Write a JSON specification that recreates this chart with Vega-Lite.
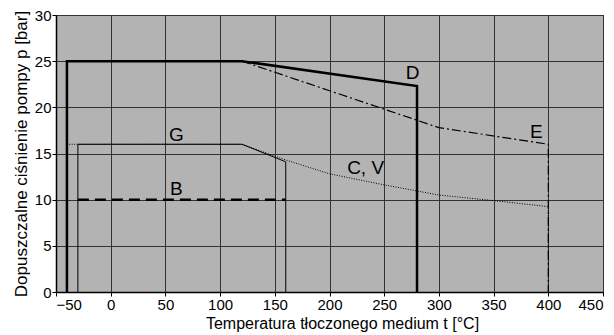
{
  "$schema": "https://vega.github.io/schema/vega-lite/v6.json",
  "autosize": "none",
  "width": 547,
  "height": 277,
  "padding": {"left": 56, "top": 15, "right": 11, "bottom": 43},
  "background": "white",
  "config": {
    "view": {"stroke": "black", "strokeWidth": 1, "fill": "#b3b3b3"},
    "font": "Liberation Sans",
    "axis": {
      "gridColor": "#333333", "gridOpacity": 1, "gridWidth": 1,
      "domainColor": "black", "domainWidth": 1.5,
      "tickColor": "black", "tickSize": 4,
      "labelFont": "Liberation Sans", "labelFontSize": 15, "labelColor": "black",
      "titleFont": "Liberation Sans", "titleFontWeight": "normal", "titleColor": "black"
    }
  },
  "datasets": {
    "lines": [
      {"s": "CV", "o": 0, "t": -40, "p": 0},
      {"s": "CV", "o": 1, "t": -40, "p": 16},
      {"s": "CV", "o": 2, "t": 120, "p": 16},
      {"s": "CV", "o": 3, "t": 160, "p": 14.3},
      {"s": "CV", "o": 4, "t": 200, "p": 12.8},
      {"s": "CV", "o": 5, "t": 250, "p": 11.6},
      {"s": "CV", "o": 6, "t": 300, "p": 10.5},
      {"s": "CV", "o": 7, "t": 350, "p": 9.9},
      {"s": "CV", "o": 8, "t": 400, "p": 9.25},
      {"s": "CV", "o": 9, "t": 400, "p": 0},
      {"s": "G", "o": 0, "t": -30, "p": 0},
      {"s": "G", "o": 1, "t": -30, "p": 16},
      {"s": "G", "o": 2, "t": 120, "p": 16},
      {"s": "G", "o": 3, "t": 160, "p": 14.1},
      {"s": "G", "o": 4, "t": 160, "p": 0},
      {"s": "E", "o": 0, "t": 120, "p": 25},
      {"s": "E", "o": 1, "t": 300, "p": 17.8},
      {"s": "E", "o": 2, "t": 400, "p": 16},
      {"s": "E", "o": 3, "t": 400, "p": 0},
      {"s": "B", "o": 0, "t": -30, "p": 10},
      {"s": "B", "o": 1, "t": 160, "p": 10},
      {"s": "D", "o": 0, "t": -40, "p": 0},
      {"s": "D", "o": 1, "t": -40, "p": 25},
      {"s": "D", "o": 2, "t": 120, "p": 25},
      {"s": "D", "o": 3, "t": 280, "p": 22.3},
      {"s": "D", "o": 4, "t": 280, "p": 0}
    ],
    "labels": [
      {"label": "D", "t": 276, "p": 23.7},
      {"label": "E", "t": 389, "p": 17.3},
      {"label": "G", "t": 60, "p": 17},
      {"label": "B", "t": 60, "p": 11.2},
      {"label": "C, V", "t": 233, "p": 13.4}
    ]
  },
  "encoding": {
    "x": {
      "field": "t", "type": "quantitative",
      "scale": {"domain": [-50, 450], "nice": false, "zero": false},
      "axis": {"values": [-50, 0, 50, 100, 150, 200, 250, 300, 350, 400, 450], "title": "Temperatura tłoczonego medium t [°C]", "titleFontSize": 16, "titlePadding": 3, "labelPadding": 1, "titleX": 286}
    },
    "y": {
      "field": "p", "type": "quantitative",
      "scale": {"domain": [0, 30], "nice": false},
      "axis": {"values": [0, 5, 10, 15, 20, 25, 30], "title": "Dopuszczalne ciśnienie pompy p [bar]", "titleFontSize": 17, "titlePadding": 4, "labelPadding": 1}
    }
  },
  "layer": [
    {
      "data": {"name": "lines"},
      "transform": [{"filter": "datum.s === 'CV'"}],
      "mark": {"type": "line", "color": "black", "strokeWidth": 1, "strokeDash": [1, 1.5]},
      "encoding": {"order": {"field": "o"}}
    },
    {
      "data": {"name": "lines"},
      "transform": [{"filter": "datum.s === 'G'"}],
      "mark": {"type": "line", "color": "black", "strokeWidth": 1},
      "encoding": {"order": {"field": "o"}}
    },
    {
      "data": {"name": "lines"},
      "transform": [{"filter": "datum.s === 'E'"}],
      "mark": {"type": "line", "color": "black", "strokeWidth": 1.2, "strokeDash": [9, 3, 2, 3]},
      "encoding": {"order": {"field": "o"}}
    },
    {
      "data": {"name": "lines"},
      "transform": [{"filter": "datum.s === 'B'"}],
      "mark": {"type": "line", "color": "black", "strokeWidth": 2.5, "strokeDash": [11, 6]},
      "encoding": {"order": {"field": "o"}}
    },
    {
      "data": {"name": "lines"},
      "transform": [{"filter": "datum.s === 'D'"}],
      "mark": {"type": "line", "color": "black", "strokeWidth": 2.5, "strokeJoin": "miter"},
      "encoding": {"order": {"field": "o"}}
    },
    {
      "data": {"name": "labels"},
      "mark": {"type": "text", "color": "black", "fontSize": 19, "font": "Liberation Sans", "align": "center", "baseline": "middle"},
      "encoding": {"text": {"field": "label"}}
    }
  ]
}
